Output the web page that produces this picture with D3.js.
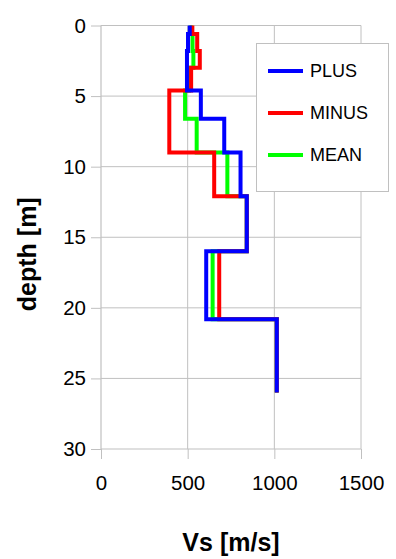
<!DOCTYPE html>
<html>
<head>
<meta charset="utf-8">
<script src="https://cdn.jsdelivr.net/npm/d3@7/dist/d3.min.js"></script>
<style>
  html, body { margin: 0; padding: 0; background: #fff; }
  svg { display: block; font-family: "Liberation Sans", Arial, sans-serif; }
</style>
</head>
<body>
<svg id="chart" width="396" height="559"></svg>
<script>
// Layer boundaries (depth, m): each layer runs from depthTop[i] to depthBottom[i]
const depthTop    = [0, 0.6, 1.8, 3.0, 4.6, 6.6, 9.0, 12.1, 16.0, 20.8];
const depthBottom = [0.6, 1.8, 3.0, 4.6, 6.6, 9.0, 12.1, 16.0, 20.8, 26.0];

// Shear-wave velocity per layer (m/s)
const vsPlus  = [512, 502, 496, 496, 576, 711, 805, 841, 607, 1014];
const vsMinus = [527, 555, 570, 520, 394, 394, 653, 841, 682, 1014];
const vsMean  = [520, 528, 533, 508, 485, 552, 729, 841, 644, 1014];

const seriesNames  = ["PLUS", "MINUS", "MEAN"];
const seriesColors = ["#0000ff", "#ff0000", "#00ff00"];

const xTicks = [0, 500, 1000, 1500];
const yTicks = [0, 5, 10, 15, 20, 25, 30];

const svg = d3.select("#chart");

const x = d3.scaleLinear().domain([0, 1500]).range([101, 361]);
const y = d3.scaleLinear().domain([0, 30]).range([25.5, 449]);

const gridColor = "#c0c0c0";

// gridlines
const grid = svg.append("g");
grid.selectAll("line.h").data(yTicks.slice(0, -1)).join("line")
  .attr("x1", x(0)).attr("x2", x(1500))
  .attr("y1", d => y(d)).attr("y2", d => y(d))
  .attr("stroke", gridColor).attr("stroke-width", 1);
grid.selectAll("line.v").data(xTicks.slice(1)).join("line")
  .attr("x1", d => x(d)).attr("x2", d => x(d))
  .attr("y1", y(0)).attr("y2", y(30))
  .attr("stroke", gridColor).attr("stroke-width", 1);

// axes
const yAxis = d3.axisLeft(y).tickValues(yTicks).tickSize(10).tickPadding(5).tickFormat(d3.format("d"));
const xAxis = d3.axisBottom(x).tickValues(xTicks).tickSize(10).tickPadding(16).tickFormat(d3.format("d"));

const gy = svg.append("g").attr("transform", `translate(${x(0)},0)`).call(yAxis);
const gx = svg.append("g").attr("transform", `translate(0,${y(30)})`).call(xAxis);

[gx, gy].forEach(g => {
  g.select(".domain").attr("stroke", gridColor).attr("stroke-width", 1.2);
  g.selectAll(".tick line").attr("stroke", gridColor).attr("stroke-width", 1);
  g.selectAll(".tick text")
    .attr("fill", "#000")
    .style("font-size", "20.5px")
    .style("font-family", "Liberation Sans, Arial, sans-serif");
});
gy.select(".domain").attr("d", `M0,${y(0)}V${y(30)}`);
gx.select(".domain").attr("d", `M${x(0)},0H${x(1500)}`);

// profiles, drawn as step lines from the layer tables
const line = d3.line().x(d => x(d[0])).y(d => y(d[1]));
const profiles = [vsPlus, vsMinus, vsMean].map(vals => {
  const pts = [];
  vals.forEach((v, i) => { pts.push([v, depthTop[i]]); pts.push([v, depthBottom[i]]); });
  return pts;
});

// MEAN underneath, PLUS on top
svg.append("g").selectAll("path")
  .data([2, 1, 0]).join("path")
  .attr("d", i => line(profiles[i]))
  .attr("fill", "none")
  .attr("stroke", i => seriesColors[i])
  .attr("stroke-width", 4)
  .attr("stroke-linejoin", "miter");

// axis titles
svg.append("text")
  .attr("x", x(750)).attr("y", 551)
  .attr("text-anchor", "middle")
  .style("font-size", "25px").style("font-weight", "bold")
  .text("Vs [m/s]");

svg.append("text")
  .attr("transform", `translate(36,${y(15) + 17}) rotate(-90)`)
  .attr("text-anchor", "middle")
  .style("font-size", "25px").style("font-weight", "bold")
  .text("depth [m]");

// legend
const lg = svg.append("g");
lg.append("rect")
  .attr("x", 256.5).attr("y", 43.5).attr("width", 132).attr("height", 148)
  .attr("fill", "#fff").attr("stroke", gridColor).attr("stroke-width", 1);
const rowY = [71, 113, 155];
seriesNames.forEach((name, i) => {
  lg.append("line")
    .attr("x1", 268).attr("x2", 303)
    .attr("y1", rowY[i]).attr("y2", rowY[i])
    .attr("stroke", seriesColors[i]).attr("stroke-width", 4);
  lg.append("text")
    .attr("x", 310).attr("y", rowY[i]).attr("dy", "0.36em")
    .style("font-size", "18px")
    .text(name);
});
</script>
</body>
</html>
